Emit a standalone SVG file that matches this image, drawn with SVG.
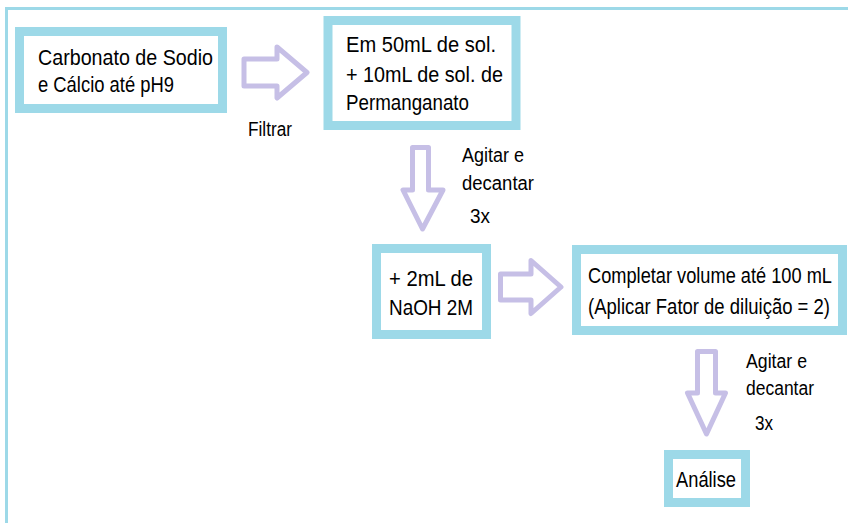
<svg xmlns="http://www.w3.org/2000/svg" width="848" height="523" viewBox="0 0 848 523">
<style>
.box{fill:#ffffff;stroke:#9dd9e8;stroke-width:9}
.arr{fill:#ffffff;stroke:#c6bfe6;stroke-width:5;stroke-linejoin:round}
text{font-family:"Liberation Sans",Arial,sans-serif;fill:#000000}
.t{font-size:22px}
.s{font-size:18.3px}
.l{font-size:20px}
</style>
<rect width="848" height="523" fill="#ffffff"/>
<path d="M6.5,523 V8.5 H848" fill="none" stroke="#9dd9e8" stroke-width="3"/>
<g id="connectors">
<path class="arr" d="M244,59 H277 V47 L307,72.5 L277,98 V86 H244 Z"/>
<path class="arr" d="M412.5,147.5 H428.5 V190 H443 L422.5,229 L403,190 H412.5 Z"/>
<path class="arr" d="M500.5,274 H531 V260.5 L561,287 L531,313.5 V300 H500.5 Z"/>
<path class="arr" d="M697.5,351.5 H715.5 V393 H725.5 L706.5,434 L687.5,393 H697.5 Z"/>
<text class="l" x="248" y="136" textLength="44" lengthAdjust="spacingAndGlyphs">Filtrar</text>
<text class="l" x="462" y="162" textLength="62" lengthAdjust="spacingAndGlyphs">Agitar e</text>
<text class="l" x="462" y="190" textLength="72" lengthAdjust="spacingAndGlyphs">decantar</text>
<text class="l" x="470" y="223" textLength="20" lengthAdjust="spacingAndGlyphs">3x</text>
<text class="l" x="746" y="368" textLength="61" lengthAdjust="spacingAndGlyphs">Agitar e</text>
<text class="l" x="746" y="395" textLength="68" lengthAdjust="spacingAndGlyphs">decantar</text>
<text class="l" x="755" y="430" textLength="18" lengthAdjust="spacingAndGlyphs">3x</text>
</g>
<g id="n1">
<rect class="box" x="19.5" y="31.5" width="203" height="77"/>
<text class="t" x="38" y="65" textLength="175" lengthAdjust="spacingAndGlyphs">Carbonato de Sodio</text>
<text class="t" x="38" y="92" textLength="136" lengthAdjust="spacingAndGlyphs">e Cálcio até pH9</text>
</g>
<g id="n2">
<rect class="box" x="328" y="20.5" width="188" height="105"/>
<text class="t" x="346" y="52" textLength="150" lengthAdjust="spacingAndGlyphs">Em 50mL de sol.</text>
<text class="t" x="346" y="82" textLength="157" lengthAdjust="spacingAndGlyphs">+ 10mL de sol. de</text>
<text class="t" x="346" y="110" textLength="123" lengthAdjust="spacingAndGlyphs">Permanganato</text>
</g>
<g id="n3">
<rect class="box" x="376.5" y="248.5" width="110" height="86"/>
<text class="t" x="389" y="286" textLength="84" lengthAdjust="spacingAndGlyphs">+ 2mL de</text>
<text class="t" x="389" y="315" textLength="84" lengthAdjust="spacingAndGlyphs">NaOH 2M</text>
</g>
<g id="n4">
<rect class="box" x="576.5" y="249.5" width="266" height="81"/>
<text class="s" transform="translate(588,283) scale(1,1.2)" x="0" y="0" textLength="244" lengthAdjust="spacingAndGlyphs">Completar volume até 100 mL</text>
<text class="s" transform="translate(588,314) scale(1,1.2)" x="0" y="0" textLength="242" lengthAdjust="spacingAndGlyphs">(Aplicar Fator de diluição = 2)</text>
</g>
<g id="n5">
<rect class="box" x="668.5" y="454.5" width="77" height="48"/>
<text class="t" x="676" y="487" textLength="60" lengthAdjust="spacingAndGlyphs">Análise</text>
</g>
</svg>
